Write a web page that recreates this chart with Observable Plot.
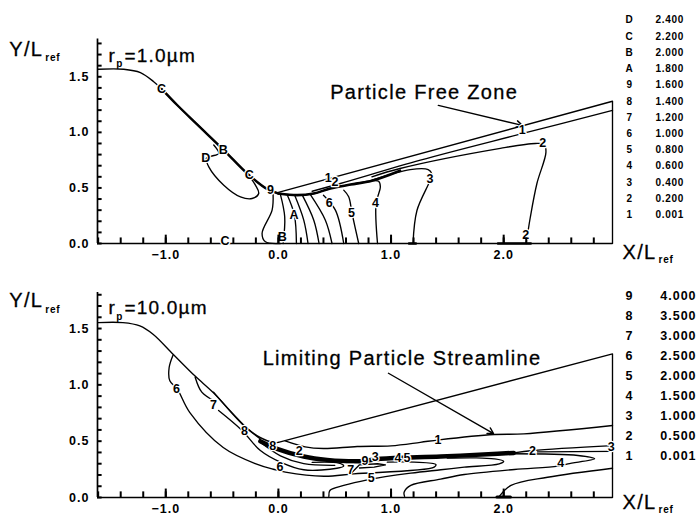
<!DOCTYPE html>
<html><head><meta charset="utf-8">
<script src="https://cdn.jsdelivr.net/npm/d3@7"></script>
<script src="https://cdn.jsdelivr.net/npm/@observablehq/plot@0.6"></script>
<style>
html,body{margin:0;padding:0;background:#fff}
svg{display:block}
g[font-size="20"]{letter-spacing:1.3px}
g[font-size="19"]{letter-spacing:1.2px}
g[font-size="10"]{letter-spacing:.7px}
g[font-size="12.5"]{letter-spacing:1px}
</style></head><body><div id="c"></div>
<script>
// ---- top panel (r_p = 1.0 um)
const wallA=[[-1.6,1.568],[-1.373,1.568],[-1.225,1.538],[-1.107,1.456],[-1.033,1.387],[-.899,1.246],[-.722,1.072],[-.485,.841],[-.278,.631],[-.1,.49],[0,.45]];
const thickWallA=[[-1.033,1.387],[-.899,1.246],[-.722,1.072],[-.485,.841],[-.278,.631],[-.1,.49],[0,.45]];
const boundaryA=[[0,.46],[2.966,1.28],[2.966,0]];
const c1A=[[.3,.47],[.55,.54],[1.26,.75],[2.17,.99],[2.966,1.198]];
const c2A=[[.83,.6],[1.08,.675],[1.97,.856],[2.28,.9],[2.36,.89],[2.375,.82],[2.295,.54],[2.236,.234],[2.2,0]];
const c3A=[[.83,.57],[1.17,.665],[1.33,.665],[1.36,.63],[1.35,.577],[1.23,.297],[1.195,0]];
const c4A=[[0,.45],[.166,.435],[.314,.45],[.46,.495],[.64,.53],[.83,.565],[.89,.56],[.905,.51],[.867,.36],[.88,0]];
const c5A=[[.58,.48],[.624,.42],[.654,.27],[.713,0]];
const c6A=[[.4,.435],[.506,.3],[.58,0]];
const c7A=[[.284,.44],[.417,.21],[.476,0]];
const c8A=[[.21,.44],[.314,.21],[.361,0]];
const c9A=[[.142,.44],[.225,.21],[.263,0]];
const cLetA=[[.077,.44],[.142,.255],[.16,0]];
const cLetB=[[.018,.44],[.056,.24],[.042,0]];
const cLetC=[[-.047,.44],[-.056,.3],[-.145,.09],[-.115,.015],[.018,0]];
const cLetD=[[-.574,.886],[-.53,.81],[-.6,.785],[-.64,.766],[-.618,.69],[-.485,.525],[-.337,.42],[-.234,.405],[-.175,.45],[-.204,.525],[-.278,.631]];
const thickBaseA=[[1.16,0],[1.22,0]];
const thickBaseB=[[1.95,0],[2.24,0]];
const thickBandA=[[0,.45],[.166,.435],[.314,.45],[.46,.495],[.64,.53],[.83,.565],[1.08,.655]];
const labelsA=["C","B","C","9","D","1","2","6","5","4","3","2","A","B","C","2","1"];
const labelXA=[-1.033,-.485,-.254,-.065,-.64,.447,.506,.456,.654,.867,1.35,2.35,.142,.038,-.47,2.2,2.17];
const labelYA=[1.387,.84,.62,.48,.766,.586,.556,.366,.27,.36,.577,.9,.255,.06,.02,.08,1.018];
const legendKeysA=["D","C","B","A","9","8","7","6","5","4","3","2","1"];
const legendValsA=["2.400","2.200","2.000","1.800","1.600","1.400","1.200","1.000","0.800","0.600","0.400","0.200","0.001"];

// ---- bottom panel (r_p = 10.0 um)
const wallB=[[-1.6,1.553],[-1.38,1.553],[-1.23,1.524],[-1.113,1.45],[-.935,1.272],[-.742,1.08],[-.579,.932],[-.4,.74],[-.282,.62],[-.163,.533],[-.045,.488],[0,.49]];
const boundaryB=[[0,.49],[2.966,1.275],[2.966,0]];
const c1B=[[.06,.503],[.237,.45],[.4,.435],[.7,.453],[1,.459],[1.26,.49],[1.427,.512],[1.917,.559],[2.18,.565],[2.966,.639]];
const bandB=[[-.16,.5],[-.012,.432],[.225,.364],[.433,.334],[.73,.322],[.908,.343],[1.442,.364],[1.947,.388],[2.09,.396]];
const c2B=[[2.09,.396],[2.26,.417],[2.97,.46]];
const c3B=[[2.3,.405],[2.96,.41]];
const c4B=[[2.065,.388],[2.66,.373],[2.807,.343],[2.57,.299],[2.48,.278],[2.095,.249],[1.65,.204],[1.44,.163],[1.175,.107],[1.116,.047],[1.12,.01]];
const c5B=[[.448,.01],[.457,.062],[.58,.107],[.79,.157],[1.175,.216],[1.442,.246],[1.65,.269],[1.96,.299],[2,.322],[1.917,.343],[1.74,.352],[1.5,.349]];
const c6B=[[-.935,1.266],[-.97,1.154],[-.964,1.036],[-.9,.967],[-.786,.754],[-.49,.444],[-.193,.296],[-.045,.251],[.062,.225],[.404,.189],[.67,.21],[1.383,.269],[1.398,.293],[1.205,.314],[.967,.314]];
const c7B=[[-.739,1.068],[-.68,.935],[-.576,.861]];
const c7bB=[[-.531,.772],[-.323,.595],[-.16,.417],[.018,.314],[.225,.246],[.52,.26],[.58,.28],[.537,.305],[.3,.312]];
const c7cB=[[.65,.22],[.72,.29],[.88,.3],[.95,.29],[.85,.27],[.72,.262]];
const c8B=[[-.576,.935],[-.309,.639],[-.16,.52]];
const c8bB=[[-.16,.49],[.018,.37],[.225,.3],[.5,.285]];
const c3bottomB=[[1.961,.01],[2.065,.107],[2.39,.18],[2.966,.26]];
const thickBaseC=[[1.94,.005],[2.06,.005]];
const labelsB=["6","7","8","8","2","6","9","3","4","5","1","7","5","2","4","3"];
const labelXB=[-.9,-.573,-.297,-.047,.19,.018,.774,.863,1.065,1.145,1.42,.647,.828,2.26,2.51,2.96];
const labelYB=[.967,.822,.592,.456,.411,.269,.322,.364,.352,.352,.512,.246,.175,.417,.305,.447];
const legendKeysB=["9","8","7","6","5","4","3","2","1"];
const legendValsB=["4.000","3.500","3.000","2.500","2.000","1.500","1.000","0.500","0.001"];

// ---- shared axis values
const xMajor=[-1,0,1,2];
const xMinor=[-1.6,-1.4,-1.2,-1,-.8,-.6,-.4,-.2,0,.2,.4,.6,.8,1,1.2,1.4,1.6,1.8,2,2.2,2.4,2.6,2.8];
const yMajor=[0,.5,1,1.5];
const yMinor=[0,.1,.2,.3,.4,.5,.6,.7,.8,.9,1,1.1,1.2,1.3,1.4,1.5,1.6,1.7,1.8];

const font="Liberation Sans, Arimo, Helvetica, Arial, sans-serif";
const thin=(arr,w=1.35,curve="catmull-rom")=>Plot.line(arr,{stroke:"#000",strokeWidth:w,curve});
const text=(s,x,y,opt)=>Plot.text([s],{x:()=>x,y:()=>y,text:d=>d,fill:"#000",textAnchor:"start",...opt});
const big={stroke:"#000",strokeWidth:.3};

function panel(o){
  const svg=Plot.plot({
    width:698,height:o.height,marginLeft:97,marginRight:86,marginTop:o.top,marginBottom:o.bottom,
    style:{fontFamily:font,background:"#fff",color:"#000",overflow:"visible"},
    x:{domain:[-1.606,2.966],label:null,axis:null},
    y:{domain:[0,o.yMax],label:null,axis:null},
    marks:[
      Plot.axisX({ticks:xMajor,tickSize:0,tickPadding:o.xPad,tickFormat:d3.format(".1f"),fontSize:12.5,fontWeight:"bold",label:null}),
      Plot.axisY({ticks:yMajor,tickSize:0,tickPadding:8,tickFormat:d3.format(".1f"),fontSize:12.5,fontWeight:"bold",label:null}),
      Plot.ruleY([0],{strokeWidth:1.7}),
      Plot.ruleX([-1.606],{strokeWidth:1.7}),
      ...o.lines,
      ...o.arrows,
      Plot.text(o.labels,{x:(d,i)=>o.lx[i],y:(d,i)=>o.ly[i],text:d=>d,fontSize:12.5,fontWeight:"bold",fill:"#000",stroke:"#fff",strokeWidth:2.5,paintOrder:"stroke"}),
      text("Y/L",-2.389,o.yTitle,{fontSize:20,...big}),
      text("ref",-2.069,o.yTitle-.08,{fontSize:10,fontWeight:"bold"}),
      text("X/L",3.055,o.xTitle,{fontSize:20,...big}),
      text("ref",3.375,o.xTitle-o.xSub,{fontSize:10,fontWeight:"bold"}),
      text("r",-1.508,o.rY,{fontSize:19,...big}),
      text("p",-1.44,o.rY-.075,{fontSize:10,fontWeight:"bold"}),
      text(o.rText,-1.366,o.rY,{fontSize:19,...big}),
      text(o.note,o.noteX,o.noteY,{fontSize:20,...big}),
      Plot.text(o.keys,{x:()=>3.117,y:(d,i)=>o.legTop-i*o.legStep,text:d=>d,fontSize:o.legSize,fontWeight:"bold"}),
      Plot.text(o.vals,{x:()=>o.valX,y:(d,i)=>o.legTop-i*o.legStep,text:d=>d,textAnchor:"start",fontSize:o.legSize,fontWeight:"bold"}),
      Plot.ruleX(xMinor,{y1:()=>0,y2:()=>.05,stroke:"#000",strokeWidth:2}),
      Plot.ruleX(xMajor,{y1:()=>0,y2:()=>.075,stroke:"#000",strokeWidth:2}),
      Plot.ruleY(yMinor,{x1:()=>-1.606,x2:()=>-1.565,stroke:"#000",strokeWidth:2})
    ]
  });
  document.getElementById("c").appendChild(svg);
}

panel({height:265,top:38.5,bottom:22,yMax:1.84,xPad:7,yTitle:1.748,xTitle:-.081,xSub:.07,rY:1.69,rText:"=1.0µm",
  note:"Particle Free Zone",noteX:.46,noteY:1.355,
  lines:[thin(wallA),thin(thickWallA,2.4),thin(boundaryA,1.35,"linear"),thin(c1A),thin(c2A),thin(c3A),thin(c4A),thin(c5A),thin(c6A),thin(c7A),thin(c8A),thin(c9A),thin(cLetA),thin(cLetB),thin(cLetC),thin(cLetD),thin(thickBandA,2.6),thin(thickBaseA,2.6,"linear"),thin(thickBaseB,2.6,"linear")],
  arrows:[Plot.arrow([0],{x1:()=>1.42,y1:()=>1.243,x2:()=>2.165,y2:()=>1.063,strokeWidth:1.4,headLength:7})],
  labels:labelsA,lx:labelXA,ly:labelYA,keys:legendKeysA,vals:legendValsA,legTop:2.009,legStep:.146,legSize:10,valX:3.348});

panel({height:250,top:27,bottom:18,yMax:1.82,xPad:6.5,yTitle:1.748,xTitle:-.045,xSub:.06,rY:1.68,rText:"=10.0µm",
  note:"Limiting Particle Streamline",noteX:-.14,noteY:1.235,
  lines:[thin(wallB),thin(boundaryB,1.35,"linear"),thin(c1B),thin(bandB,4.5),thin(c2B),thin(c3B,1.35,"linear"),thin(c4B),thin(c5B),thin(c6B),thin(c7B),thin(c7bB),thin(c7cB,1.35,"linear"),thin(c8B),thin(c8bB),thin(c3bottomB),thin(thickBaseC,3,"linear")],
  arrows:[Plot.arrow([0],{x1:()=>.977,y1:()=>1.103,x2:()=>1.91,y2:()=>.568,strokeWidth:1.4,headLength:7})],
  labels:labelsB,lx:labelXB,ly:labelYB,keys:legendKeysB,vals:legendValsB,legTop:1.792,legStep:.178,legSize:12.5,valX:3.39});
</script></body></html>
